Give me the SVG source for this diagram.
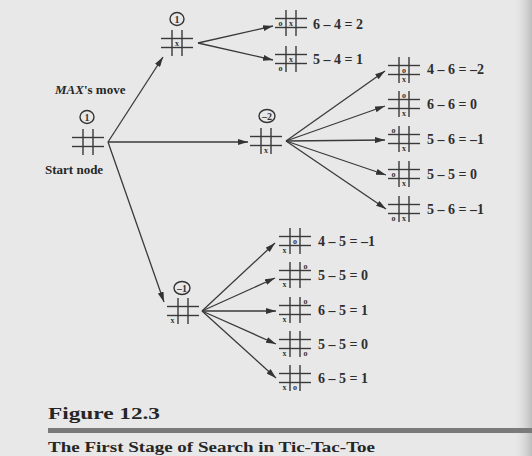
<svg xmlns="http://www.w3.org/2000/svg" width="532" height="456" viewBox="0 0 532 456">
<defs>
<style>
.mk{font-family:"Liberation Serif",serif;font-size:8px;font-weight:bold;fill:#333;text-anchor:middle}
.val{font-family:"Liberation Serif",serif;font-size:14px;font-weight:bold;fill:#2e2e2e}
.lbl{font-family:"Liberation Serif",serif;font-size:13px;font-weight:bold;fill:#262626}
.circ{fill:none;stroke:#333;stroke-width:1.4}
.cn{font-family:"Liberation Serif",serif;font-size:10px;font-weight:bold;fill:#333;text-anchor:middle}
.cap{font-family:"Liberation Serif",serif;font-weight:bold;fill:#262626}
</style>
<marker id="ah" viewBox="0 0 10 6" refX="10" refY="3" markerWidth="10" markerHeight="6" markerUnits="userSpaceOnUse" orient="auto"><path d="M0,0 L10,3 L0,6 z" fill="#333"/></marker>
<g id="grid" stroke="#3a3a3a" stroke-width="1.4">
<line x1="-16" y1="-4.5" x2="16" y2="-4.5"/><line x1="-16" y1="4.5" x2="16" y2="4.5"/>
<line x1="-5" y1="-13" x2="-5" y2="13"/><line x1="5" y1="-13" x2="5" y2="13"/>
</g>
<linearGradient id="edge" x1="0" y1="0" x2="1" y2="0"><stop offset="0" stop-color="#e8e8e8" stop-opacity="0"/><stop offset="1" stop-color="#bdbdbd"/></linearGradient>
</defs>
<rect width="532" height="456" fill="#e8e8e8"/>
<rect x="512" width="20" height="456" fill="url(#edge)"/>

<g id="connectors" stroke="#3a3a3a" stroke-width="1.3" marker-end="url(#ah)" fill="none">
<line x1="108" y1="142" x2="163" y2="57"/>
<line x1="108" y1="142" x2="248" y2="142"/>
<line x1="108" y1="142" x2="164" y2="302"/>
<line x1="198" y1="43" x2="273" y2="26"/>
<line x1="198" y1="43" x2="273" y2="60"/>
<line x1="286" y1="141" x2="385" y2="71"/>
<line x1="286" y1="141" x2="385" y2="106"/>
<line x1="286" y1="141" x2="385" y2="140"/>
<line x1="286" y1="141" x2="386" y2="175"/>
<line x1="286" y1="141" x2="386" y2="209"/>
<line x1="202" y1="311" x2="275" y2="243"/>
<line x1="202" y1="311" x2="275" y2="278"/>
<line x1="202" y1="311" x2="276" y2="311"/>
<line x1="202" y1="311" x2="276" y2="344"/>
<line x1="202" y1="311" x2="276" y2="378"/>
</g>

<text class="lbl" x="55" y="94"><tspan font-style="italic">MAX</tspan>'s move</text>

<g id="start">
<ellipse class="circ" cx="87" cy="117" rx="7" ry="6.5"/><text class="cn" x="87" y="120.5">1</text>
<use href="#grid" x="88" y="142"/>
<text class="lbl" x="45" y="174">Start node</text>
</g>

<g id="nodeA">
<ellipse class="circ" cx="177" cy="19" rx="7" ry="6.5"/><text class="cn" x="177" y="22.5">1</text>
<use href="#grid" x="177" y="43"/>
<text class="mk" x="177" y="45.5">x</text>
</g>
<g id="a1">
<use href="#grid" x="291" y="23"/>
<text class="mk" x="280.5" y="25.5">o</text><text class="mk" x="291" y="25.5">x</text>
<text class="val" x="313" y="29">6 – 4 = 2</text>
</g>
<g id="a2">
<use href="#grid" x="291" y="59"/>
<text class="mk" x="280.5" y="70.5">o</text><text class="mk" x="291" y="61.5">x</text>
<text class="val" x="313" y="64">5 – 4 = 1</text>
</g>

<g id="nodeB">
<ellipse class="circ" cx="267" cy="116" rx="8" ry="6.5"/><text class="cn" x="267" y="119.5">–2</text>
<use href="#grid" x="266" y="141"/>
<text class="mk" x="266" y="152.5">x</text>
</g>
<g id="b1">
<use href="#grid" x="404" y="70"/>
<text class="mk" x="404" y="72.5">o</text><text class="mk" x="404" y="81.5">x</text>
<text class="val" x="427" y="74">4 – 6 = –2</text>
</g>
<g id="b2">
<use href="#grid" x="404" y="104"/>
<text class="mk" x="404" y="97.5">o</text><text class="mk" x="404" y="115.5">x</text>
<text class="val" x="427" y="109">6 – 6 = 0</text>
</g>
<g id="b3">
<use href="#grid" x="404" y="139"/>
<text class="mk" x="393.5" y="132.5">o</text><text class="mk" x="404" y="150.5">x</text>
<text class="val" x="427" y="144">5 – 6 = –1</text>
</g>
<g id="b4">
<use href="#grid" x="404" y="174"/>
<text class="mk" x="393.5" y="176.5">o</text><text class="mk" x="404" y="185.5">x</text>
<text class="val" x="427" y="179">5 – 5 = 0</text>
</g>
<g id="b5">
<use href="#grid" x="404" y="209"/>
<text class="mk" x="393.5" y="220.5">o</text><text class="mk" x="404" y="220.5">x</text>
<text class="val" x="427" y="214">5 – 6 = –1</text>
</g>

<g id="nodeC">
<ellipse class="circ" cx="182" cy="288" rx="8" ry="6.5"/><text class="cn" x="182" y="291.5">–1</text>
<use href="#grid" x="183" y="311"/>
<text class="mk" x="172.5" y="322.5">x</text>
</g>
<g id="c1">
<use href="#grid" x="295" y="241"/>
<text class="mk" x="295" y="243.5">o</text><text class="mk" x="284.5" y="252.5">x</text>
<text class="val" x="318" y="246">4 – 5 = –1</text>
</g>
<g id="c2">
<use href="#grid" x="295" y="275"/>
<text class="mk" x="305.5" y="268.5">o</text><text class="mk" x="284.5" y="286.5">x</text>
<text class="val" x="318" y="280">5 – 5 = 0</text>
</g>
<g id="c3">
<use href="#grid" x="295" y="310"/>
<text class="mk" x="305.5" y="303.5">o</text><text class="mk" x="284.5" y="321.5">x</text>
<text class="val" x="318" y="315">6 – 5 = 1</text>
</g>
<g id="c4">
<use href="#grid" x="295" y="344"/>
<text class="mk" x="305.5" y="355.5">o</text><text class="mk" x="284.5" y="355.5">x</text>
<text class="val" x="318" y="349">5 – 5 = 0</text>
</g>
<g id="c5">
<use href="#grid" x="295" y="378"/>
<text class="mk" x="295" y="389.5">o</text><text class="mk" x="284.5" y="389.5">x</text>
<text class="val" x="318" y="383">6 – 5 = 1</text>
</g>

<text class="cap" x="48" y="419" font-size="17" textLength="112" lengthAdjust="spacingAndGlyphs">Figure 12.3</text>
<rect x="48" y="428" width="484" height="5" fill="#7a7a7a"/>
<text class="cap" x="48" y="452" font-size="15" textLength="327" lengthAdjust="spacingAndGlyphs">The First Stage of Search in Tic-Tac-Toe</text>
</svg>
